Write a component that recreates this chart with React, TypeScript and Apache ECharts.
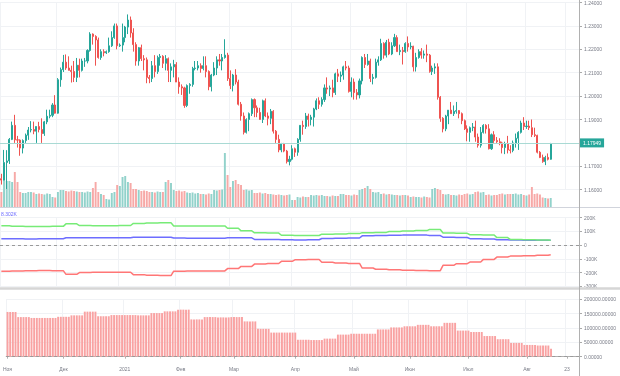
import React, { useEffect, useRef } from "react";
import * as echarts from "echarts";

// ---------- data ----------
const firstDay = "2020-11-02";
const futureDays = 10;

// daily EURUSD candles [open, high, low, close]
const ohlc: number[][] = [
  // Nov 2020
  [1.1647, 1.1668, 1.1622, 1.1641], [1.1641, 1.177, 1.164, 1.1716], [1.1716, 1.1769, 1.1603, 1.1723], [1.1723, 1.1821, 1.171, 1.1815], [1.1815, 1.1891, 1.1812, 1.1875],
  [1.1875, 1.192, 1.18, 1.1813], [1.1813, 1.183, 1.178, 1.1812], [1.1812, 1.1815, 1.1745, 1.1778], [1.1778, 1.1815, 1.1755, 1.181], [1.181, 1.184, 1.18, 1.1833],
  [1.1833, 1.1868, 1.1813, 1.1855], [1.1855, 1.1893, 1.1845, 1.1857], [1.1857, 1.1891, 1.1837, 1.185], [1.185, 1.187, 1.18, 1.187], [1.187, 1.189, 1.1845, 1.1857],
  [1.1857, 1.1905, 1.18, 1.184], [1.184, 1.1894, 1.183, 1.189], [1.189, 1.1942, 1.188, 1.1914], [1.1914, 1.1942, 1.1905, 1.1918], [1.1918, 1.197, 1.191, 1.1962],
  [1.1962, 1.2004, 1.1925, 1.1927],
  // Dec 2020
  [1.1927, 1.2077, 1.1925, 1.207], [1.207, 1.2122, 1.204, 1.2113], [1.2113, 1.2176, 1.2103, 1.2145], [1.2145, 1.2178, 1.2112, 1.212],
  [1.212, 1.217, 1.211, 1.211], [1.211, 1.213, 1.2058, 1.2105], [1.2105, 1.215, 1.206, 1.208], [1.208, 1.2163, 1.206, 1.2132], [1.2132, 1.216, 1.208, 1.211],
  [1.211, 1.216, 1.2105, 1.215], [1.215, 1.2163, 1.2125, 1.215], [1.215, 1.22, 1.214, 1.2195], [1.2195, 1.2273, 1.219, 1.2265], [1.2265, 1.2268, 1.222, 1.2255],
  [1.2255, 1.226, 1.213, 1.224], [1.224, 1.225, 1.216, 1.2165], [1.2165, 1.22, 1.2155, 1.219], [1.219, 1.22, 1.217, 1.2185], [1.2185, 1.2195, 1.218, 1.219],
  [1.219, 1.225, 1.2185, 1.2215], [1.2215, 1.2277, 1.221, 1.225], [1.225, 1.231, 1.2245, 1.23], [1.23, 1.231, 1.22, 1.2215],
  // Jan 2021
  [1.2215, 1.2225, 1.221, 1.2218],
  [1.2218, 1.231, 1.219, 1.225], [1.225, 1.23, 1.223, 1.2295], [1.2295, 1.2349, 1.2265, 1.2325], [1.2325, 1.234, 1.225, 1.227], [1.227, 1.229, 1.219, 1.222],
  [1.222, 1.223, 1.213, 1.215], [1.215, 1.221, 1.213, 1.2207], [1.2207, 1.222, 1.215, 1.216], [1.216, 1.2175, 1.211, 1.2155], [1.2155, 1.2165, 1.2055, 1.208],
  [1.208, 1.209, 1.2055, 1.2075], [1.2075, 1.215, 1.206, 1.213], [1.213, 1.2175, 1.208, 1.2105], [1.2105, 1.2173, 1.2095, 1.2165], [1.2165, 1.218, 1.213, 1.217],
  [1.217, 1.2175, 1.212, 1.214], [1.214, 1.2175, 1.211, 1.216], [1.216, 1.2165, 1.206, 1.211], [1.211, 1.214, 1.206, 1.2125], [1.2125, 1.2155, 1.208, 1.2135],
  // Feb 2021
  [1.2135, 1.2145, 1.206, 1.206], [1.206, 1.208, 1.201, 1.204], [1.204, 1.205, 1.2005, 1.2035], [1.2035, 1.204, 1.195, 1.196], [1.196, 1.205, 1.1953, 1.2045],
  [1.2045, 1.2055, 1.201, 1.205], [1.205, 1.2125, 1.204, 1.2118], [1.2118, 1.215, 1.211, 1.212], [1.212, 1.215, 1.211, 1.213], [1.213, 1.214, 1.21, 1.2118],
  [1.2118, 1.217, 1.211, 1.213], [1.213, 1.217, 1.208, 1.2105], [1.2105, 1.211, 1.2025, 1.204], [1.204, 1.2095, 1.202, 1.209], [1.209, 1.2145, 1.2085, 1.212],
  [1.212, 1.217, 1.209, 1.2155], [1.2155, 1.218, 1.213, 1.215], [1.215, 1.218, 1.211, 1.2165], [1.2165, 1.2243, 1.216, 1.2175], [1.2175, 1.2185, 1.2065, 1.2075],
  // Mar 2021
  [1.2075, 1.211, 1.203, 1.2045], [1.2045, 1.2095, 1.202, 1.209], [1.209, 1.2115, 1.205, 1.206], [1.206, 1.207, 1.196, 1.1965], [1.1965, 1.1975, 1.1895, 1.1915],
  [1.1915, 1.193, 1.1836, 1.1845], [1.1845, 1.1905, 1.184, 1.19], [1.19, 1.193, 1.185, 1.1925], [1.1925, 1.199, 1.1915, 1.1985], [1.1985, 1.199, 1.191, 1.195],
  [1.195, 1.196, 1.191, 1.193], [1.193, 1.195, 1.19, 1.19], [1.19, 1.1985, 1.1885, 1.198], [1.198, 1.199, 1.191, 1.1915], [1.1915, 1.193, 1.1875, 1.1905],
  [1.1905, 1.1945, 1.188, 1.1935], [1.1935, 1.194, 1.184, 1.185], [1.185, 1.1855, 1.18, 1.1815], [1.1815, 1.1835, 1.176, 1.177], [1.177, 1.18, 1.176, 1.1795],
  [1.1795, 1.18, 1.176, 1.1765], [1.1765, 1.177, 1.1712, 1.172], [1.172, 1.1745, 1.1704, 1.173],
  // Apr 2021
  [1.173, 1.179, 1.1725, 1.1775], [1.1775, 1.178, 1.174, 1.176],
  [1.176, 1.182, 1.1745, 1.1815], [1.1815, 1.1875, 1.1805, 1.1875], [1.1875, 1.1895, 1.1835, 1.187], [1.187, 1.1928, 1.186, 1.1915], [1.1915, 1.1925, 1.187, 1.19],
  [1.19, 1.192, 1.1875, 1.191], [1.191, 1.195, 1.187, 1.1945], [1.1945, 1.199, 1.194, 1.198], [1.198, 1.1995, 1.1945, 1.1965], [1.1965, 1.1995, 1.1955, 1.1985],
  [1.1985, 1.205, 1.1975, 1.2035], [1.2035, 1.208, 1.201, 1.203], [1.203, 1.2045, 1.2, 1.2035], [1.2035, 1.207, 1.1995, 1.2015], [1.2015, 1.21, 1.2005, 1.2095],
  [1.2095, 1.2116, 1.206, 1.2085], [1.2085, 1.2105, 1.206, 1.209], [1.209, 1.213, 1.207, 1.2125], [1.2125, 1.215, 1.211, 1.212], [1.212, 1.213, 1.2015, 1.202],
  // May 2021
  [1.202, 1.208, 1.1995, 1.206], [1.206, 1.2075, 1.1985, 1.2015], [1.2015, 1.203, 1.1985, 1.2005], [1.2005, 1.2075, 1.199, 1.2065], [1.2065, 1.217, 1.205, 1.2165],
  [1.2165, 1.218, 1.212, 1.2135], [1.2135, 1.218, 1.213, 1.215], [1.215, 1.216, 1.206, 1.2075], [1.2075, 1.2095, 1.205, 1.208], [1.208, 1.216, 1.2075, 1.2145],
  [1.2145, 1.217, 1.213, 1.2155], [1.2155, 1.2245, 1.215, 1.2225], [1.2225, 1.223, 1.216, 1.2175], [1.2175, 1.224, 1.2165, 1.223], [1.223, 1.2245, 1.2175, 1.218],
  [1.218, 1.223, 1.2175, 1.2215], [1.2215, 1.2266, 1.221, 1.225], [1.225, 1.226, 1.219, 1.219], [1.219, 1.222, 1.2175, 1.2195], [1.2195, 1.221, 1.2135, 1.219],
  [1.219, 1.223, 1.2185, 1.2225],
  // Jun 2021
  [1.2225, 1.2255, 1.219, 1.221], [1.221, 1.223, 1.22, 1.2213], [1.2213, 1.2215, 1.2105, 1.2125], [1.2125, 1.2185, 1.2105, 1.2165],
  [1.2165, 1.22, 1.216, 1.219], [1.219, 1.2205, 1.216, 1.2175], [1.2175, 1.2195, 1.216, 1.218], [1.218, 1.222, 1.2145, 1.2175], [1.2175, 1.218, 1.21, 1.2105],
  [1.2105, 1.213, 1.209, 1.212], [1.212, 1.214, 1.2095, 1.2125], [1.2125, 1.214, 1.1985, 1.1995], [1.1995, 1.2, 1.189, 1.1905], [1.1905, 1.191, 1.1845, 1.186],
  [1.186, 1.192, 1.185, 1.1915], [1.1915, 1.194, 1.188, 1.194], [1.194, 1.1975, 1.1925, 1.1925], [1.1925, 1.196, 1.1915, 1.1935], [1.1935, 1.1975, 1.1925, 1.1938],
  [1.1938, 1.194, 1.1905, 1.1925], [1.1925, 1.193, 1.188, 1.1895], [1.1895, 1.19, 1.1855, 1.186],
  // Jul 2021
  [1.186, 1.1875, 1.1807, 1.1845], [1.1845, 1.187, 1.1805, 1.1865],
  [1.1865, 1.1885, 1.185, 1.1868], [1.1868, 1.1895, 1.1805, 1.1825], [1.1825, 1.184, 1.178, 1.179], [1.179, 1.1868, 1.178, 1.1845], [1.1845, 1.188, 1.184, 1.1875],
  [1.1875, 1.188, 1.184, 1.186], [1.186, 1.188, 1.1772, 1.1775], [1.1775, 1.184, 1.177, 1.1835], [1.1835, 1.185, 1.18, 1.181], [1.181, 1.1825, 1.18, 1.1805],
  [1.1805, 1.182, 1.179, 1.18], [1.18, 1.1805, 1.1755, 1.178], [1.178, 1.1805, 1.1752, 1.1795], [1.1795, 1.183, 1.1755, 1.177], [1.177, 1.179, 1.1755, 1.1768],
  [1.1768, 1.181, 1.176, 1.18], [1.18, 1.184, 1.178, 1.182], [1.182, 1.185, 1.177, 1.1845], [1.1845, 1.1895, 1.184, 1.1885], [1.1885, 1.191, 1.1855, 1.187],
  // Aug 2021
  [1.187, 1.1895, 1.186, 1.1872], [1.1872, 1.1895, 1.1855, 1.1865], [1.1865, 1.19, 1.1825, 1.1835], [1.1835, 1.1865, 1.1825, 1.1832], [1.1832, 1.1835, 1.1755, 1.176],
  [1.176, 1.1765, 1.1735, 1.1738], [1.1738, 1.175, 1.1715, 1.172], [1.172, 1.1745, 1.1705, 1.1738], [1.1738, 1.1755, 1.1725, 1.173], [1.173, 1.18, 1.1728, 1.17949],
];

// daily tick volume
const volumes: number[] = [
  300, 540, 520, 520, 500, 700, 500, 300, 280, 280,
  300, 300, 290, 260, 270, 260, 250, 270, 260, 200,
  190, 300, 340, 340, 320, 310, 330, 320, 310, 300,
  300, 290, 310, 300, 380, 500, 300, 260, 240, 160,
  150, 280, 300, 440, 420, 600, 620, 500, 480, 360,
  360, 340, 320, 330, 320, 300, 300, 290, 310, 300,
  300, 500, 540, 480, 340, 320, 330, 310, 320, 290,
  280, 290, 270, 280, 260, 260, 250, 270, 260, 340,
  330, 340, 350, 1080, 640, 400, 520, 540, 460, 440,
  340, 350, 330, 340, 280, 280, 290, 270, 280, 260,
  260, 250, 240, 250, 240, 230, 240, 250, 140, 140,
  200, 190, 210, 200, 200, 240, 230, 240, 230, 240,
  220, 220, 210, 230, 220, 220, 260, 260, 240, 240,
  230, 250, 240, 340, 360, 380, 420, 360, 300, 290,
  300, 260, 270, 250, 260, 250, 240, 240, 230, 240,
  240, 230, 200, 210, 200, 200, 190, 210, 200, 190,
  360, 380, 360, 340, 260, 250, 260, 240, 240, 230,
  250, 240, 260, 270, 250, 260, 300, 310, 290, 300,
  240, 250, 230, 240, 240, 260, 270, 250, 260, 260,
  260, 270, 250, 260, 240, 230, 250, 400, 260, 270,
  250, 190, 180, 170, 180,
];

// weekly COT positions (each week takes effect on its Friday)
const cotLong: number[] = [
  142000, 137000, 135000, 135000, 137000, 155000, 143000, 142000, 142000, 143000,
  158000, 162000, 163000, 140000, 139000, 139000, 140000, 123000, 104000, 90000,
  88000, 72000, 70000, 70000, 80000, 82000, 84000, 91000, 93000, 100000,
  103000, 106000, 114000, 88000, 86000, 76000, 74000, 55000, 42000, 39000,
  37000, 36000,
];
const cotNet: number[] = [
  46000, 46000, 45000, 46000, 47000, 54000, 53000, 53000, 53000, 54000,
  57000, 58000, 58000, 52000, 51000, 51000, 51000, 53000, 53000, 42000,
  41000, 39000, 38000, 39000, 48000, 51000, 52000, 68000, 71000, 72000,
  73000, 73000, 70000, 58000, 56000, 47000, 45000, 40000, 37000, 36000,
  35000, 35000,
];
const cotShort: number[] = [
  -191000, -188000, -186000, -185000, -186000, -213000, -200000, -198000, -197000, -198000,
  -215000, -220000, -222000, -190000, -189000, -188000, -188000, -171000, -155000, -138000,
  -134000, -118000, -107000, -105000, -125000, -130000, -133000, -167000, -176000, -180000,
  -183000, -185000, -186000, -147000, -135000, -123000, -104000, -87000, -80000, -77000,
  -74000, -70000,
];
const openInterest: number[] = [
  156000, 138000, 135000, 135000, 139000, 144000, 157000, 141000, 145000, 145000,
  144000, 152000, 158000, 164000, 130000, 138000, 137000, 138000, 123000, 97000,
  84000, 84000, 59000, 58000, 63000, 77000, 80000, 80000, 95000, 102000,
  106000, 111000, 106000, 118000, 91000, 86000, 72000, 61000, 48000, 41000,
  39000, 28000,
];

const tickDates = ["2020-11-02", "2020-12-01", "2021-01-01", "2021-02-01", "2021-03-01", "2021-04-01", "2021-05-03", "2021-06-01", "2021-07-01", "2021-08-02", "2021-08-23"];
const tickLabels = ["Ноя", "Дек", "2021", "Фев", "Мар", "Апр", "Май", "Июн", "Июл", "Авг", "23"];
const lastPrice = 1.17949;
const lastPriceText = "1.17949";
const cotHeader = "8.302K";

// ---------- styles ----------
const UP = "#26a69a";
const DOWN = "#ef5350";
const UP_VOL = "#92d2cb";
const DOWN_VOL = "#f7a9a7";
const AXIS_TXT = "#787b86";
const GRID_LINE = "#f0f2f5";
const FONT = "'Liberation Sans', Arial, sans-serif";

function weekdayDates(start: string, count: number): string[] {
  const out: string[] = [];
  const d = new Date(start + "T00:00:00Z");
  while (out.length < count) {
    const wd = d.getUTCDay();
    if (wd !== 0 && wd !== 6) out.push(d.toISOString().slice(0, 10));
    d.setUTCDate(d.getUTCDate() + 1);
  }
  return out;
}

export default function App() {
  const ref = useRef<HTMLDivElement>(null);

  useEffect(() => {
    if (!ref.current) return;
    const chart = echarts.init(ref.current, undefined, { renderer: "svg" });
    const n = ohlc.length;
    const dates = weekdayDates(firstDay, n + futureDays);
    const weekOf = (i: number) => Math.floor((i + 1) / 5);
    const daily = (arr: number[]) => ohlc.map((_, i) => arr[weekOf(i)]);
    const candleData = ohlc.map(([o, h, l, c]) => [o, c, l, h]);
    const volData = volumes.map((v, i) => ({
      value: v,
      itemStyle: { color: ohlc[i][3] >= ohlc[i][0] ? UP_VOL : DOWN_VOL },
    }));
    const tickMap = new Map<number, string>();
    tickDates.forEach((d, k) => tickMap.set(dates.indexOf(d), tickLabels[k]));
    const isTick = (i: number) => tickMap.has(i);

    const gridBase = { left: -3, right: 41 };
    const hiddenX = (gi: number, split: boolean) => ({
      type: "category" as const,
      gridIndex: gi,
      data: dates,
      boundaryGap: true,
      axisLine: { show: false },
      axisTick: { show: false },
      axisLabel: { show: false },
      splitLine: { show: split, interval: (i: number) => isTick(i), lineStyle: { color: GRID_LINE, width: 1 } },
    });
    const rightY = (gi: number, min: number, max: number, interval: number, fmt: (v: number) => string) => ({
      type: "value" as const,
      gridIndex: gi,
      position: "right" as const,
      min,
      max,
      interval,
      axisLine: { show: false },
      axisTick: { show: true, length: 3, lineStyle: { color: "#aaaaaa" } },
      axisLabel: { show: true, fontSize: 5, color: AXIS_TXT, margin: 5, fontFamily: FONT, formatter: fmt },
      splitLine: { show: true, lineStyle: { color: GRID_LINE, width: 1 } },
    });
    const zeroLine = {
      silent: true,
      symbol: "none",
      label: { show: false },
      lineStyle: { color: "#9a9a9a", type: [3, 3], width: 1 },
      data: [{ yAxis: 0 }],
    };

    chart.setOption({
      animation: false,
      textStyle: { fontFamily: FONT },
      grid: [
        { ...gridBase, top: 0.3, height: 189.4 },
        { ...gridBase, top: 150, height: 57 },
        { ...gridBase, top: 217.7, height: 68.6 },
        { ...gridBase, top: 299.3, height: 57.4 },
      ],
      xAxis: [
        hiddenX(0, true),
        hiddenX(1, false),
        hiddenX(2, true),
        {
          type: "category",
          gridIndex: 3,
          data: dates,
          boundaryGap: true,
          offset: 5.3,
          axisLine: { show: true, lineStyle: { color: "#b0b0b0", width: 1 } },
          axisTick: { show: true, interval: (i: number) => isTick(i), alignWithLabel: true, length: 2, lineStyle: { color: "#b0b0b0" } },
          axisLabel: {
            show: true,
            interval: (i: number) => isTick(i),
            formatter: (_v: string, i: number) => tickMap.get(i) ?? "",
            fontSize: 5,
            color: AXIS_TXT,
            margin: 4,
            fontFamily: FONT,
          },
          splitLine: { show: true, interval: (i: number) => isTick(i), lineStyle: { color: GRID_LINE, width: 1 } },
        },
      ],
      yAxis: [
        rightY(0, 1.16, 1.24, 0.01, (v) => v.toFixed(5)),
        { type: "value", gridIndex: 1, min: 0, max: 1140, show: false, splitLine: { show: false } },
        rightY(2, -300000, 200000, 100000, (v) => (v === 0 ? "0" : `${Math.round(v / 1000)}K`)),
        rightY(3, 0, 200000, 50000, (v) => v.toFixed(5)),
      ],
      series: [
        {
          type: "bar",
          name: "Volume",
          xAxisIndex: 1,
          yAxisIndex: 1,
          data: volData,
          barWidth: "72%",
          z: 1,
        },
        {
          type: "candlestick",
          name: "EURUSD",
          xAxisIndex: 0,
          yAxisIndex: 0,
          data: candleData,
          barWidth: "58%",
          z: 3,
          itemStyle: { color: UP, color0: DOWN, borderColor: UP, borderColor0: DOWN, borderWidth: 1 },
          markLine: {
            silent: true,
            symbol: "none",
            lineStyle: { color: "#a9dad4", type: "solid", width: 1 },
            label: {
              show: true,
              position: "end",
              formatter: lastPriceText,
              backgroundColor: UP,
              color: "#ffffff",
              fontSize: 5,
              padding: [2, 3],
              distance: 1,
              fontFamily: FONT,
            },
            data: [{ yAxis: lastPrice }],
          },
        },
        {
          type: "line",
          name: "Net",
          xAxisIndex: 2,
          yAxisIndex: 2,
          data: daily(cotNet),
          showSymbol: false,
          lineStyle: { color: "#6d6dff", width: 1.5 },
          z: 3,
          markLine: zeroLine,
        },
        {
          type: "line",
          name: "Long",
          xAxisIndex: 2,
          yAxisIndex: 2,
          data: daily(cotLong),
          showSymbol: false,
          lineStyle: { color: "#77eb77", width: 1.5 },
          z: 4,
        },
        {
          type: "line",
          name: "Short",
          xAxisIndex: 2,
          yAxisIndex: 2,
          data: daily(cotShort),
          showSymbol: false,
          lineStyle: { color: "#ff7676", width: 1.5 },
          z: 4,
        },
        {
          type: "bar",
          name: "Open interest",
          xAxisIndex: 3,
          yAxisIndex: 3,
          data: daily(openInterest),
          barWidth: "72%",
          itemStyle: { color: "#f9a2a2" },
          markLine: zeroLine,
        },
      ],
      graphic: [
        { type: "line", z: 100, silent: true, shape: { x1: 0, y1: 207.5, x2: 620, y2: 207.5 }, style: { stroke: "#d1d4dc", lineWidth: 1 } },
        { type: "line", z: 100, silent: true, shape: { x1: 0, y1: 288.5, x2: 620, y2: 288.5 }, style: { stroke: "#d6d6d6", lineWidth: 2.5 } },
        { type: "line", z: 100, silent: true, shape: { x1: 579.5, y1: 0, x2: 579.5, y2: 376 }, style: { stroke: "#b0b0b0", lineWidth: 1 } },
        { type: "text", z: 100, silent: true, x: 1, y: 211, style: { text: cotHeader, fill: "#6b6bff", fontSize: 5, fontFamily: FONT } },
      ],
    });

    return () => chart.dispose();
  }, []);

  return <div ref={ref} style={{ position: "fixed", left: 0, top: 0, width: 620, height: 376 }} />;
}
